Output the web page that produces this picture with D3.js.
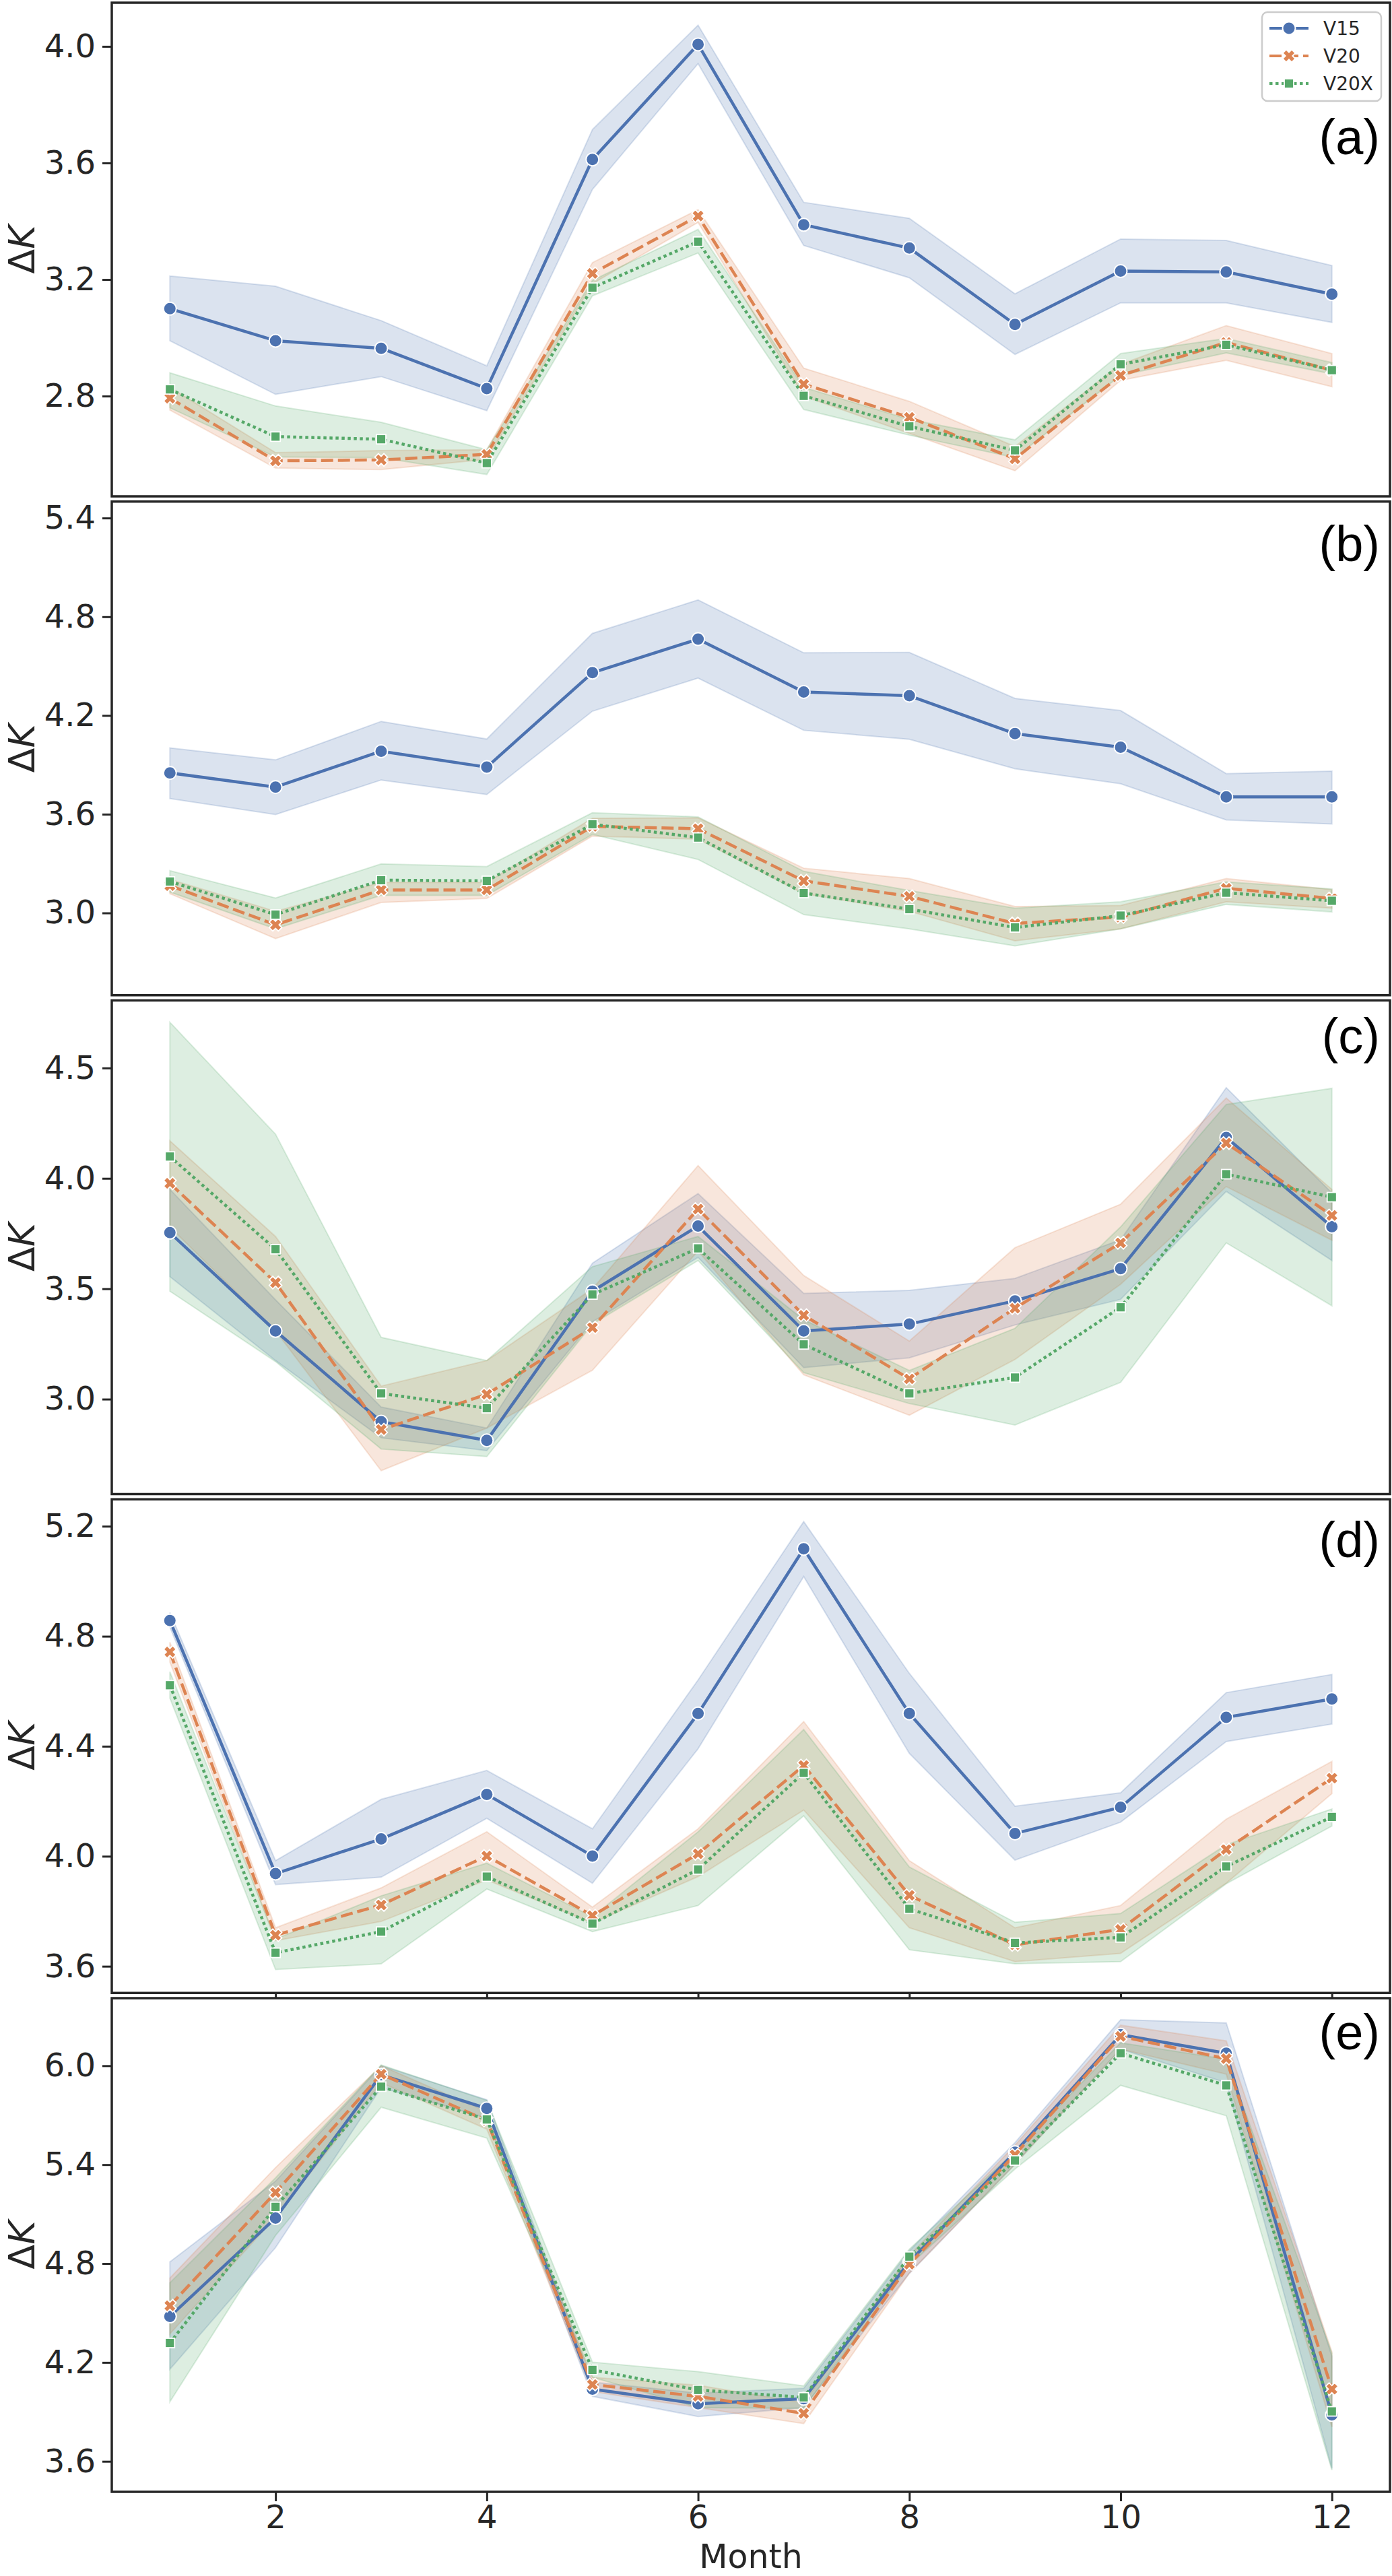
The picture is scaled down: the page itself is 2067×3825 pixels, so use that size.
<!DOCTYPE html>
<html>
<head>
<meta charset="utf-8">
<script src="https://cdn.jsdelivr.net/npm/d3@7"></script>
<style>
  body { margin: 0; background: #fff; }
  svg text { font-family: "DejaVu Sans", sans-serif; fill: #262626; }
</style>
</head>
<body>
<div id="chart"></div>
<script>
// months on the x axis
var months = [1, 2, 3, 4, 5, 6, 7, 8, 9, 10, 11, 12];
var seriesNames = ["V15", "V20", "V20X"];
var xTicks = [2, 4, 6, 8, 10, 12];

// (a)
var a_V15    = [3.100, 2.990, 2.964, 2.826, 3.612, 4.007, 3.388, 3.308, 3.046, 3.229, 3.226, 3.150];
var a_V15_lo = [2.990, 2.806, 2.867, 2.750, 3.509, 3.941, 3.317, 3.206, 2.943, 3.120, 3.120, 3.053];
var a_V15_hi = [3.212, 3.177, 3.059, 2.904, 3.715, 4.073, 3.465, 3.410, 3.151, 3.339, 3.334, 3.248];
var a_V20    = [2.793, 2.578, 2.581, 2.600, 3.221, 3.418, 2.841, 2.727, 2.585, 2.871, 2.984, 2.889];
var a_V20_lo = [2.752, 2.553, 2.548, 2.583, 3.186, 3.396, 2.800, 2.672, 2.544, 2.854, 2.923, 2.832];
var a_V20_hi = [2.830, 2.606, 2.613, 2.616, 3.258, 3.440, 2.896, 2.782, 2.627, 2.909, 3.042, 2.946];
var a_V20X    = [2.823, 2.661, 2.652, 2.570, 3.172, 3.330, 2.801, 2.696, 2.614, 2.909, 2.976, 2.889];
var a_V20X_lo = [2.760, 2.591, 2.589, 2.531, 3.144, 3.291, 2.754, 2.666, 2.589, 2.871, 2.948, 2.876];
var a_V20X_hi = [2.880, 2.766, 2.710, 2.616, 3.197, 3.372, 2.830, 2.720, 2.650, 2.946, 2.998, 2.915];
var a_ticks = [2.8, 3.2, 3.6, 4.0];

// (b)
var b_V15    = [3.851, 3.765, 3.983, 3.886, 4.460, 4.664, 4.343, 4.320, 4.090, 4.007, 3.705, 3.705];
var b_V15_lo = [3.695, 3.598, 3.808, 3.720, 4.226, 4.427, 4.110, 4.055, 3.876, 3.785, 3.565, 3.541];
var b_V15_hi = [4.003, 3.930, 4.164, 4.057, 4.699, 4.902, 4.581, 4.583, 4.304, 4.230, 3.847, 3.862];
var b_V20    = [3.166, 2.928, 3.140, 3.140, 3.526, 3.512, 3.195, 3.101, 2.936, 2.975, 3.150, 3.088];
var b_V20_lo = [3.117, 2.844, 3.064, 3.088, 3.467, 3.448, 3.117, 3.010, 2.831, 2.903, 3.068, 3.029];
var b_V20_hi = [3.204, 3.010, 3.186, 3.186, 3.575, 3.578, 3.272, 3.209, 3.039, 3.045, 3.209, 3.142];
var b_V20X    = [3.191, 2.990, 3.199, 3.195, 3.539, 3.458, 3.121, 3.023, 2.912, 2.984, 3.123, 3.074];
var b_V20X_lo = [3.127, 2.903, 3.107, 3.107, 3.477, 3.325, 2.990, 2.903, 2.800, 2.903, 3.052, 3.006];
var b_V20X_hi = [3.257, 3.091, 3.298, 3.282, 3.609, 3.584, 3.253, 3.136, 3.029, 3.068, 3.189, 3.146];
var b_ticks = [3.0, 3.6, 4.2, 4.8, 5.4];

// (c)
var c_V15    = [3.754, 3.309, 2.898, 2.813, 3.489, 3.784, 3.309, 3.340, 3.445, 3.591, 4.185, 3.781];
var c_V15_lo = [3.555, 3.175, 2.825, 2.767, 3.350, 3.642, 3.143, 3.187, 3.336, 3.452, 3.941, 3.628];
var c_V15_hi = [3.950, 3.450, 2.964, 2.869, 3.616, 3.931, 3.479, 3.493, 3.547, 3.722, 4.411, 3.934];
var c_V20    = [3.978, 3.528, 2.862, 3.022, 3.324, 3.861, 3.380, 3.092, 3.412, 3.708, 4.160, 3.832];
var c_V20_lo = [3.780, 3.310, 2.676, 2.869, 3.131, 3.671, 3.110, 2.927, 3.180, 3.520, 3.963, 3.720];
var c_V20_hi = [4.170, 3.737, 3.059, 3.175, 3.500, 4.058, 3.560, 3.263, 3.686, 3.883, 4.364, 3.950];
var c_V20X    = [4.099, 3.679, 3.026, 2.959, 3.474, 3.683, 3.248, 3.026, 3.098, 3.416, 4.019, 3.915];
var c_V20X_lo = [3.489, 3.170, 2.774, 2.740, 3.340, 3.628, 3.120, 2.980, 2.883, 3.076, 3.708, 3.423];
var c_V20X_hi = [4.707, 4.200, 3.280, 3.175, 3.600, 3.737, 3.360, 3.130, 3.321, 3.780, 4.335, 4.408];
var c_ticks = [3.0, 3.5, 4.0, 4.5];

// (d)
var d_V15    = [4.857, 3.937, 4.063, 4.225, 4.001, 4.519, 5.118, 4.519, 4.083, 4.178, 4.505, 4.572];
var d_V15_lo = [4.833, 3.897, 3.924, 4.138, 3.902, 4.391, 5.017, 4.374, 3.986, 4.124, 4.417, 4.481];
var d_V15_hi = [4.886, 3.984, 4.207, 4.312, 4.100, 4.641, 5.217, 4.665, 4.182, 4.231, 4.595, 4.661];
var d_V20    = [4.743, 3.713, 3.823, 4.001, 3.784, 4.009, 4.330, 3.858, 3.678, 3.734, 4.025, 4.284];
var d_V20_lo = [4.706, 3.693, 3.763, 3.914, 3.757, 3.926, 4.168, 3.740, 3.617, 3.647, 3.902, 4.228];
var d_V20_hi = [4.778, 3.740, 3.885, 4.089, 3.815, 4.100, 4.490, 3.984, 3.740, 3.821, 4.135, 4.345];
var d_V20X    = [4.622, 3.649, 3.726, 3.926, 3.755, 3.952, 4.303, 3.809, 3.685, 3.705, 3.963, 4.143];
var d_V20X_lo = [4.575, 3.588, 3.609, 3.881, 3.726, 3.821, 4.147, 3.660, 3.609, 3.617, 3.900, 4.110];
var d_V20X_hi = [4.671, 3.699, 3.856, 3.975, 3.780, 4.089, 4.461, 3.961, 3.760, 3.792, 4.042, 4.172];
var d_ticks = [3.6, 4.0, 4.4, 4.8, 5.2];

// (e)
var e_V15    = [4.479, 5.076, 5.945, 5.741, 4.038, 3.949, 3.980, 4.810, 5.475, 6.188, 6.076, 3.882];
var e_V15_lo = [4.159, 4.897, 5.868, 5.683, 3.994, 3.872, 3.926, 4.740, 5.402, 6.101, 5.897, 3.557];
var e_V15_hi = [4.810, 5.300, 6.000, 5.794, 4.081, 4.014, 4.043, 4.877, 5.534, 6.279, 6.260, 4.237];
var e_V20    = [4.544, 5.231, 5.949, 5.668, 4.066, 3.994, 3.891, 4.796, 5.460, 6.178, 6.043, 4.038];
var e_V20_lo = [4.373, 5.081, 5.897, 5.615, 4.023, 3.926, 3.829, 4.741, 5.402, 6.101, 5.949, 3.808];
var e_V20_hi = [4.712, 5.382, 6.000, 5.722, 4.110, 4.062, 3.955, 4.848, 5.518, 6.246, 6.151, 4.265];
var e_V20X    = [4.318, 5.144, 5.873, 5.674, 4.155, 4.033, 3.988, 4.842, 5.425, 6.076, 5.881, 3.903];
var e_V20X_lo = [3.961, 4.970, 5.748, 5.561, 4.110, 3.926, 3.922, 4.790, 5.373, 5.881, 5.697, 3.547];
var e_V20X_hi = [4.683, 5.320, 6.005, 5.790, 4.202, 4.144, 4.058, 4.887, 5.480, 6.139, 6.040, 4.256];
var e_ticks = [3.6, 4.2, 4.8, 5.4, 6.0];

// layout
var svgWidth = 2067, svgHeight = 3825;
var plotLeft = 166, plotRight = 2064;
var panelTop0 = 4, panelStep = 740.75, panelHeight = 733;
var colors = ["#4c72b0", "#dd8452", "#55a868"];
var dashes = [null, "18,7", "4.5,4.5"];
var ink = "#262626";

var panels = [
    { tag: "(a)", ticks: a_ticks, ylim: [2.456, 4.150], labelY: 229, xTicks: false,
      series: [[a_V15, a_V15_lo, a_V15_hi], [a_V20, a_V20_lo, a_V20_hi], [a_V20X, a_V20X_lo, a_V20X_hi]] },
    { tag: "(b)", ticks: b_ticks, ylim: [2.5, 5.5], labelY: 833, xTicks: false,
      series: [[b_V15, b_V15_lo, b_V15_hi], [b_V20, b_V20_lo, b_V20_hi], [b_V20X, b_V20X_lo, b_V20X_hi]] },
    { tag: "(c)", ticks: c_ticks, ylim: [2.570, 4.806], labelY: 1564, xTicks: false,
      series: [[c_V15, c_V15_lo, c_V15_hi], [c_V20, c_V20_lo, c_V20_hi], [c_V20X, c_V20X_lo, c_V20X_hi]] },
    { tag: "(d)", ticks: d_ticks, ylim: [3.503, 5.298], labelY: 2312, xTicks: true,
      series: [[d_V15, d_V15_lo, d_V15_hi], [d_V20, d_V20_lo, d_V20_hi], [d_V20X, d_V20X_lo, d_V20X_hi]] },
    { tag: "(e)", ticks: e_ticks, ylim: [3.415, 6.410], labelY: 3043, xTicks: true,
      series: [[e_V15, e_V15_lo, e_V15_hi], [e_V20, e_V20_lo, e_V20_hi], [e_V20X, e_V20X_lo, e_V20X_hi]] }
];

var svg = d3.select("#chart").append("svg")
    .attr("width", svgWidth)
    .attr("height", svgHeight);

var x = d3.scaleLinear().domain([0.45, 12.55]).range([plotLeft, plotRight]);

// filled "X" marker like matplotlib's
function xMarkerPath(L, t) {
    var pts = [[t, L], [t, t], [L, t], [L, -t], [t, -t], [t, -L], [-t, -L], [-t, -t], [-L, -t], [-L, t], [-t, t], [-t, L]];
    var c = Math.SQRT1_2;
    return "M" + pts.map(function (p) {
        return [(p[0] - p[1]) * c, (p[0] + p[1]) * c].join(",");
    }).join("L") + "Z";
}

function drawMarker(g, kind, cx, cy, color) {
    if (kind === 0) {
        g.append("circle").attr("cx", cx).attr("cy", cy).attr("r", 9.5)
            .attr("fill", color).attr("stroke", "#fff").attr("stroke-width", 2);
    } else if (kind === 1) {
        g.append("path").attr("d", xMarkerPath(9.5, 3.7))
            .attr("transform", "translate(" + cx + "," + cy + ")")
            .attr("fill", color).attr("stroke", "#fff").attr("stroke-width", 1.8);
    } else {
        g.append("rect").attr("x", cx - 7).attr("y", cy - 7).attr("width", 14).attr("height", 14)
            .attr("fill", color).attr("stroke", "#fff").attr("stroke-width", 1.8);
    }
}

panels.forEach(function (p, i) {
    var top = panelTop0 + i * panelStep;
    var bottom = top + panelHeight;
    var y = d3.scaleLinear().domain(p.ylim).range([bottom, top]);
    var g = svg.append("g");

    g.append("rect").attr("x", plotLeft).attr("y", top)
        .attr("width", plotRight - plotLeft).attr("height", panelHeight).attr("fill", "#fff");

    var clipId = "clip" + i;
    g.append("clipPath").attr("id", clipId).append("rect")
        .attr("x", plotLeft).attr("y", top).attr("width", plotRight - plotLeft).attr("height", panelHeight);
    var plot = g.append("g").attr("clip-path", "url(#" + clipId + ")");

    // bands first
    p.series.forEach(function (s, k) {
        var area = d3.area()
            .x(function (d, j) { return x(months[j]); })
            .y0(function (d, j) { return y(s[1][j]); })
            .y1(function (d, j) { return y(s[2][j]); });
        plot.append("path").datum(s[0]).attr("d", area)
            .attr("fill", colors[k]).attr("fill-opacity", 0.2)
            .attr("stroke", colors[k]).attr("stroke-opacity", 0.2).attr("stroke-width", 2);
    });

    // lines with markers
    p.series.forEach(function (s, k) {
        var line = d3.line()
            .x(function (d, j) { return x(months[j]); })
            .y(function (d) { return y(d); });
        plot.append("path").datum(s[0]).attr("d", line)
            .attr("fill", "none").attr("stroke", colors[k]).attr("stroke-width", 4.5)
            .attr("stroke-linejoin", "round")
            .attr("stroke-dasharray", dashes[k]);
        s[0].forEach(function (v, j) {
            drawMarker(plot, k, x(months[j]), y(v), colors[k]);
        });
    });

    // y axis
    var yAxis = d3.axisLeft(y).tickValues(p.ticks).tickFormat(d3.format(".1f"))
        .tickSize(14).tickPadding(10);
    var ya = g.append("g").attr("transform", "translate(" + plotLeft + ",0)").call(yAxis);
    ya.select(".domain").remove();
    ya.selectAll(".tick line").attr("stroke", ink).attr("stroke-width", 3);
    ya.selectAll(".tick text").attr("font-size", 48).attr("fill", ink)
        .attr("font-family", "DejaVu Sans");

    if (p.xTicks) {
        var xAxis = d3.axisBottom(x).tickValues(xTicks).tickSize(14).tickPadding(6)
            .tickFormat(i === panels.length - 1 ? d3.format("d") : "");
        var xa = g.append("g").attr("transform", "translate(0," + bottom + ")").call(xAxis);
        xa.select(".domain").remove();
        xa.selectAll(".tick line").attr("stroke", ink).attr("stroke-width", 3);
        xa.selectAll(".tick text").attr("font-size", 48).attr("fill", ink)
            .attr("font-family", "DejaVu Sans");
    }

    // frame
    g.append("rect").attr("x", plotLeft).attr("y", top)
        .attr("width", plotRight - plotLeft).attr("height", panelHeight)
        .attr("fill", "none").attr("stroke", ink).attr("stroke-width", 3.5);

    // y label
    var yl = g.append("text")
        .attr("transform", "translate(51," + ((top + bottom) / 2) + ") rotate(-90)")
        .attr("text-anchor", "middle").attr("font-size", 54);
    yl.append("tspan").text("Δ");
    yl.append("tspan").attr("font-style", "italic").text("K");

    // panel tag
    g.append("text").attr("x", 2049).attr("y", p.labelY)
        .attr("text-anchor", "end").attr("font-size", 74)
        .style("font-family", "'Liberation Sans', Arial, sans-serif")
        .style("fill", "#000")
        .text(p.tag);
});

// x label
svg.append("text").attr("x", (plotLeft + plotRight) / 2).attr("y", 3813)
    .attr("text-anchor", "middle").attr("font-size", 49).text("Month");

// legend in panel (a)
var legend = svg.append("g");
legend.append("rect").attr("x", 1874).attr("y", 18).attr("width", 177).attr("height", 132)
    .attr("rx", 8).attr("fill", "#fff").attr("fill-opacity", 0.8)
    .attr("stroke", "#cccccc").attr("stroke-width", 2.5);
seriesNames.forEach(function (name, k) {
    var ry = 42 + k * 41;
    legend.append("line").attr("x1", 1885).attr("x2", 1943).attr("y1", ry).attr("y2", ry)
        .attr("stroke", colors[k]).attr("stroke-width", 4).attr("stroke-dasharray", dashes[k]);
    drawMarker(legend, k, 1914, ry, colors[k]);
    legend.append("text").attr("x", 1965).attr("y", ry + 10).attr("font-size", 28).text(name);
});
</script>
</body>
</html>
